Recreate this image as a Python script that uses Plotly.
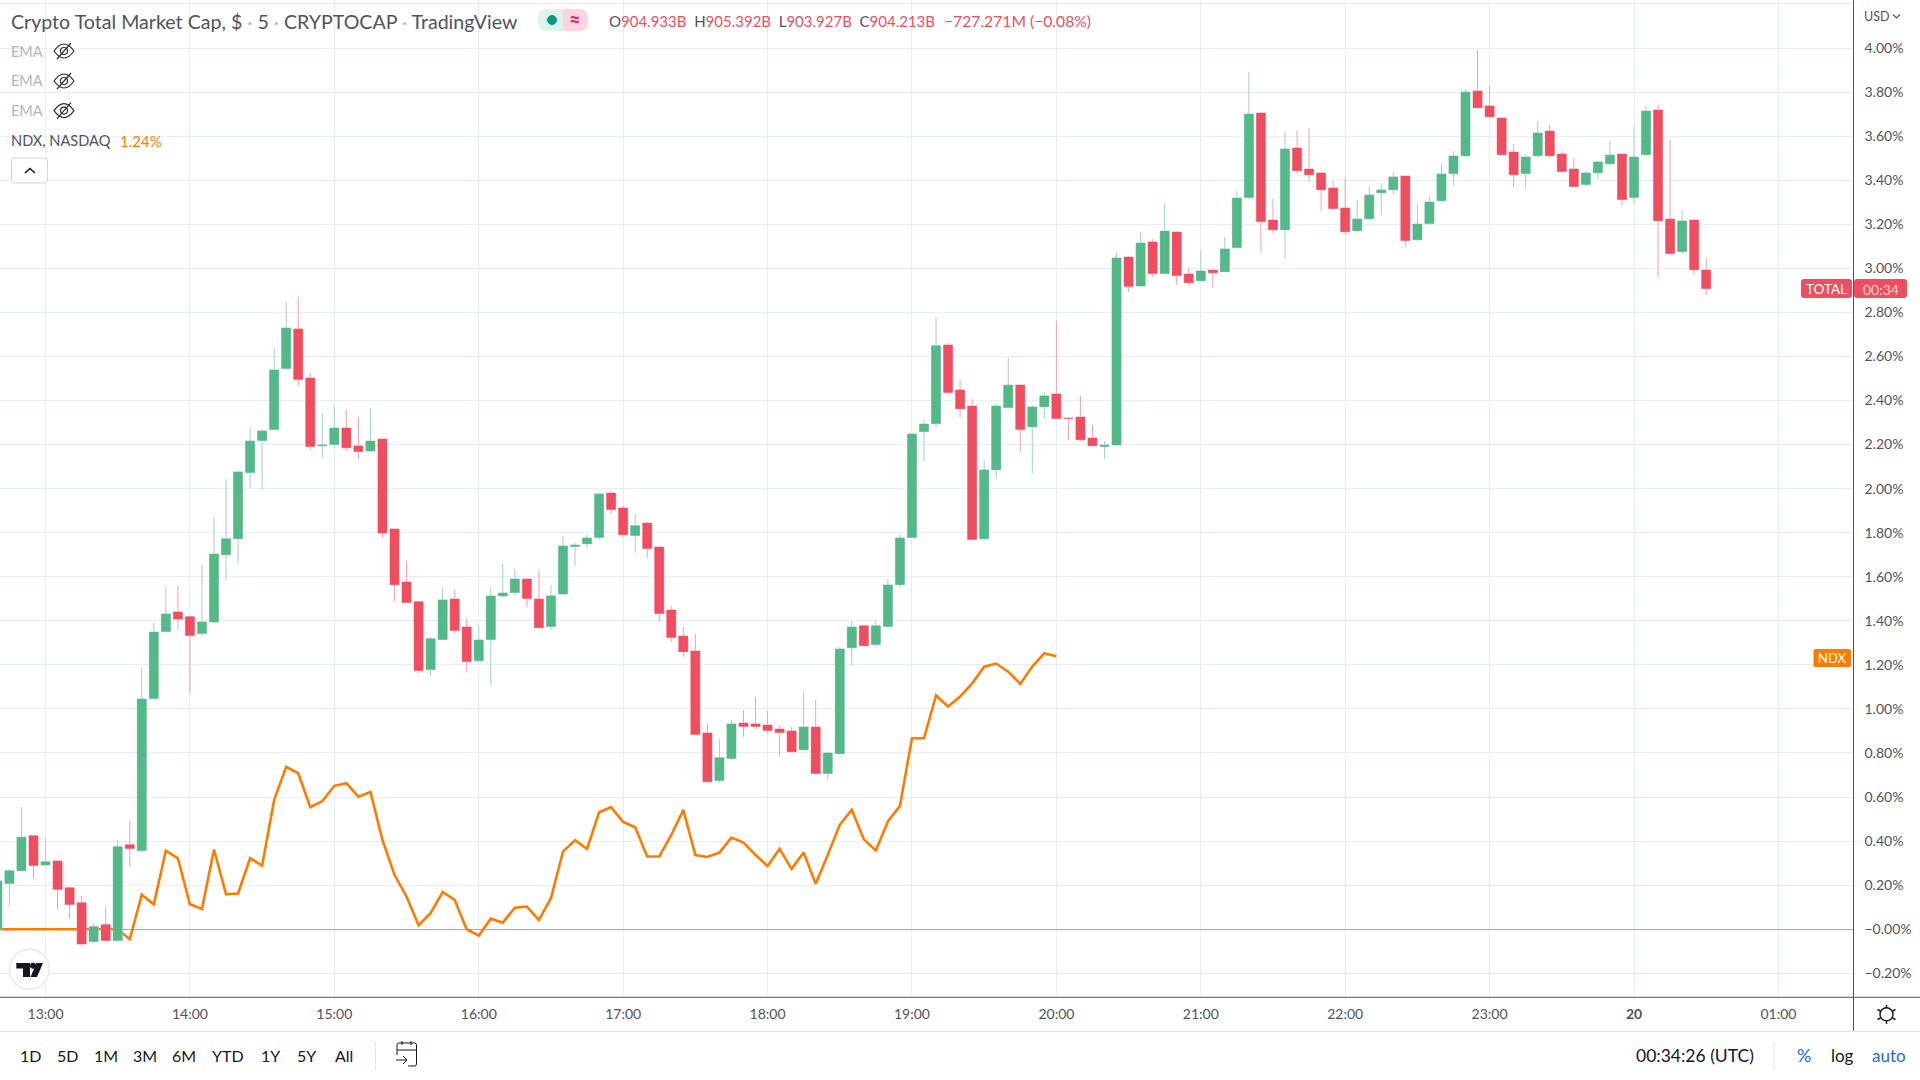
#!/usr/bin/env python
import pandas as pd
import plotly.graph_objects as go

# TOTAL candles, % change, one every 5 minutes starting 12:40
candle_open = [0.000, 0.207, 0.266, 0.424, 0.292, 0.310, 0.188, 0.120, -0.056, 0.020,
    -0.051, 0.383, 0.357, 1.047, 1.351, 1.440, 1.418, 1.342, 1.395, 1.700,
    1.773, 2.073, 2.218, 2.268, 2.545, 2.725, 2.502, 2.195, 2.200, 2.275,
    2.194, 2.171, 2.225, 1.817, 1.576, 1.486, 1.179, 1.315, 1.499, 1.372,
    1.219, 1.315, 1.513, 1.528, 1.590, 1.499, 1.374, 1.522, 1.737, 1.750,
    1.778, 1.980, 1.912, 1.787, 1.844, 1.735, 1.449, 1.331, 1.263, 0.891,
    0.675, 0.775, 0.936, 0.932, 0.927, 0.909, 0.900, 0.815, 0.918, 0.707,
    0.797, 1.278, 1.377, 1.292, 1.374, 1.564, 1.778, 2.259, 2.295, 2.652,
    2.448, 2.375, 1.772, 2.086, 2.368, 2.470, 2.281, 2.372, 2.430, 2.321,
    2.325, 2.230, 2.191, 2.198, 3.051, 2.920, 3.120, 2.976, 3.165, 2.974,
    2.944, 2.992, 2.985, 3.094, 3.321, 3.705, 3.219, 3.175, 3.546, 3.451,
    3.433, 3.365, 3.274, 3.171, 3.225, 3.343, 3.357, 3.419, 3.130, 3.203,
    3.307, 3.430, 3.511, 3.805, 3.737, 3.682, 3.528, 3.430, 3.511, 3.623,
    3.519, 3.451, 3.380, 3.434, 3.475, 3.519, 3.321, 3.516, 3.719, 3.224,
    3.076, 3.219, 2.992]
candle_high = [0.225, 0.272, 0.555, 0.427, 0.413, 0.310, 0.191, 0.151, 0.027, 0.101,
    0.405, 0.492, 1.186, 1.395, 1.554, 1.558, 1.422, 1.654, 1.871, 2.044,
    2.079, 2.280, 2.271, 2.638, 2.847, 2.870, 2.525, 2.343, 2.371, 2.357,
    2.325, 2.362, 2.225, 1.817, 1.672, 1.490, 1.327, 1.549, 1.540, 1.413,
    1.381, 1.554, 1.658, 1.635, 1.595, 1.631, 1.563, 1.785, 1.753, 1.794,
    1.980, 1.989, 1.921, 1.885, 1.849, 1.735, 1.467, 1.372, 1.340, 0.932,
    0.864, 0.950, 0.995, 1.054, 0.991, 0.923, 0.918, 1.077, 1.041, 0.805,
    1.281, 1.399, 1.377, 1.404, 1.590, 1.794, 2.253, 2.312, 2.779, 2.661,
    2.493, 2.407, 2.130, 2.384, 2.593, 2.475, 2.380, 2.439, 2.761, 2.325,
    2.421, 2.289, 2.216, 3.070, 3.056, 3.165, 3.133, 3.292, 3.169, 3.001,
    3.079, 2.997, 3.142, 3.351, 3.891, 3.710, 3.315, 3.619, 3.623, 3.637,
    3.437, 3.396, 3.410, 3.310, 3.374, 3.387, 3.437, 3.419, 3.292, 3.324,
    3.469, 3.533, 3.814, 3.991, 3.828, 3.687, 3.564, 3.519, 3.669, 3.651,
    3.533, 3.501, 3.446, 3.487, 3.578, 3.519, 3.646, 3.737, 3.741, 3.582,
    3.265, 3.224, 3.047]
candle_low = [0.000, 0.107, 0.266, 0.228, 0.287, 0.089, 0.048, -0.074, -0.065, -0.056,
    -0.057, 0.284, 0.348, 1.042, 1.349, 1.360, 1.070, 1.328, 1.390, 1.582,
    1.660, 2.005, 1.998, 2.266, 2.539, 2.466, 2.175, 2.141, 2.186, 2.172,
    2.135, 2.166, 1.776, 1.490, 1.481, 1.163, 1.150, 1.313, 1.342, 1.165,
    1.215, 1.109, 1.508, 1.513, 1.463, 1.368, 1.359, 1.517, 1.649, 1.731,
    1.767, 1.885, 1.781, 1.708, 1.685, 1.395, 1.304, 1.236, 0.882, 0.669,
    0.664, 0.769, 0.873, 0.909, 0.891, 0.787, 0.805, 0.809, 0.705, 0.678,
    0.796, 1.195, 1.286, 1.281, 1.368, 1.549, 1.778, 2.126, 2.275, 2.434,
    2.321, 1.767, 1.767, 2.044, 2.366, 2.166, 2.067, 2.316, 2.316, 2.221,
    2.216, 2.194, 2.135, 2.194, 2.893, 2.915, 2.961, 2.970, 2.924, 2.920,
    2.942, 2.911, 2.983, 3.088, 3.315, 3.074, 3.160, 3.042, 3.433, 3.392,
    3.260, 3.265, 3.151, 3.165, 3.219, 3.242, 3.333, 3.097, 3.124, 3.197,
    3.301, 3.378, 3.505, 3.728, 3.687, 3.514, 3.369, 3.360, 3.501, 3.501,
    3.437, 3.369, 3.374, 3.405, 3.469, 3.283, 3.292, 3.510, 2.961, 3.060,
    3.065, 2.974, 2.879]
candle_close = [0.219, 0.265, 0.418, 0.289, 0.306, 0.180, 0.112, -0.067, 0.011, -0.051,
    0.374, 0.366, 1.045, 1.349, 1.431, 1.408, 1.333, 1.395, 1.703, 1.772,
    2.076, 2.216, 2.262, 2.539, 2.729, 2.495, 2.191, 2.198, 2.275, 2.186,
    2.168, 2.216, 1.799, 1.564, 1.483, 1.174, 1.318, 1.495, 1.356, 1.215,
    1.313, 1.513, 1.526, 1.590, 1.501, 1.369, 1.513, 1.740, 1.744, 1.776,
    1.976, 1.905, 1.791, 1.831, 1.728, 1.433, 1.324, 1.260, 0.884, 0.670,
    0.778, 0.932, 0.920, 0.920, 0.902, 0.893, 0.806, 0.918, 0.707, 0.800,
    1.272, 1.372, 1.287, 1.377, 1.563, 1.776, 2.248, 2.293, 2.648, 2.436,
    2.363, 1.769, 2.085, 2.375, 2.470, 2.268, 2.371, 2.421, 2.318, 2.318,
    2.222, 2.195, 2.198, 3.047, 2.917, 3.115, 2.976, 3.169, 2.967, 2.935,
    2.988, 2.980, 3.088, 3.319, 3.700, 3.212, 3.175, 3.542, 3.443, 3.425,
    3.357, 3.271, 3.166, 3.224, 3.333, 3.356, 3.415, 3.126, 3.201, 3.301,
    3.428, 3.510, 3.800, 3.729, 3.688, 3.516, 3.425, 3.505, 3.614, 3.511,
    3.439, 3.371, 3.433, 3.483, 3.514, 3.312, 3.505, 3.714, 3.216, 3.067,
    3.215, 2.994, 2.908]

# NDX comparison line, same start, stops at 20:00
ndx_values = [0.000, 0.000, 0.000, 0.000, 0.000, 0.000, 0.000, 0.000, 0.000, 0.000,
    0.000, -0.045, 0.157, 0.113, 0.357, 0.322, 0.113, 0.092, 0.362, 0.159,
    0.162, 0.322, 0.289, 0.587, 0.737, 0.708, 0.554, 0.581, 0.651, 0.663,
    0.602, 0.623, 0.405, 0.247, 0.148, 0.018, 0.073, 0.169, 0.133, 0.000,
    -0.029, 0.048, 0.030, 0.098, 0.103, 0.042, 0.141, 0.352, 0.404, 0.365,
    0.531, 0.554, 0.487, 0.463, 0.330, 0.330, 0.428, 0.542, 0.337, 0.328,
    0.348, 0.416, 0.393, 0.337, 0.287, 0.365, 0.274, 0.348, 0.206, 0.337,
    0.474, 0.542, 0.408, 0.357, 0.489, 0.560, 0.867, 0.867, 1.061, 1.011,
    1.056, 1.116, 1.192, 1.206, 1.169, 1.113, 1.192, 1.253, 1.239]

y_ticks = [-0.2, 0.0, 0.2, 0.4, 0.6, 0.8, 1.0, 1.2, 1.4, 1.6, 1.8, 2.0, 2.2, 2.4, 2.6,
    2.8, 3.0, 3.2, 3.4, 3.6, 3.8, 4.0, 4.2]
y_labels = ['\u22120.20%', '\u22120.00%', '0.20%', '0.40%', '0.60%', '0.80%', '1.00%', '1.20%',
    '1.40%', '1.60%', '1.80%', '2.00%', '2.20%', '2.40%', '2.60%', '2.80%', '3.00%',
    '3.20%', '3.40%', '3.60%', '3.80%', '4.00%', '']
x_ticks = ['2022-10-19 13:00', '2022-10-19 14:00', '2022-10-19 15:00', '2022-10-19 16:00',
    '2022-10-19 17:00', '2022-10-19 18:00', '2022-10-19 19:00', '2022-10-19 20:00',
    '2022-10-19 21:00', '2022-10-19 22:00', '2022-10-19 23:00', '2022-10-20 00:00',
    '2022-10-20 01:00']
x_labels = ['13:00', '14:00', '15:00', '16:00', '17:00', '18:00', '19:00', '20:00',
    '21:00', '22:00', '23:00', '<b>20</b>', '01:00']
range_buttons = ['1D', '5D', '1M', '3M', '6M', 'YTD', '1Y', '5Y', 'All']
range_button_x = [30, 67, 106, 145, 184, 228, 270, 306, 344]

FONT = 'Lato'
TEXT = '#50535e'
GRID = '#e6eef4'
RED = '#ee4e5f'
GREEN = '#53b987'
ORANGE = '#ff7b00'
W, H = 1920, 1080
AXIS_X, AXIS_Y = 1853.5, 997.3

times = pd.date_range('2022-10-19 12:40', periods=len(candle_open), freq='5min')
ndx_times = times[:len(ndx_values)]
body_high = [max(o, c) for o, c in zip(candle_open, candle_close)]
body_low = [min(o, c) for o, c in zip(candle_open, candle_close)]

fig = go.Figure()

fig.add_trace(go.Scatter(x=ndx_times, y=ndx_values, mode='lines', name='NDX',
                         line=dict(color=ORANGE, width=2.6), yaxis='y'))

# wicks are paler than the bodies so they get their own trace underneath
fig.add_trace(go.Candlestick(x=times, open=candle_open, high=candle_high, low=candle_low,
                             close=candle_close, yaxis='y2', whiskerwidth=0,
                             increasing=dict(line=dict(color='#a3cfcf', width=1), fillcolor=GREEN),
                             decreasing=dict(line=dict(color='#fb9dab', width=1), fillcolor=RED)))
fig.add_trace(go.Candlestick(x=times, open=candle_open, high=body_high, low=body_low,
                             close=candle_close, yaxis='y2', whiskerwidth=0,
                             increasing=dict(line=dict(color=GREEN, width=0), fillcolor=GREEN),
                             decreasing=dict(line=dict(color=RED, width=0), fillcolor=RED)))


def px(x, y):
    return '%.5f %.5f' % (x / W, 1 - y / H)


def line(x0, y0, x1, y1, color, width=1):
    return dict(type='line', xref='paper', yref='paper', x0=x0 / W, y0=1 - y0 / H, x1=x1 / W,
                y1=1 - y1 / H, line=dict(color=color, width=width), layer='above')


def path(p, fill=None, border=None, width=1):
    d = dict(type='path', xref='paper', yref='paper', path=p, layer='above', line=dict(width=0))
    if fill:
        d['fillcolor'] = fill
    if border:
        d['line'] = dict(color=border, width=width)
    return d


def rect(x0, y0, x1, y1, fill, border=None, r=3):
    p = ('M ' + px(x0 + r, y0) + ' L ' + px(x1 - r, y0) + ' Q ' + px(x1, y0) + ' ' + px(x1, y0 + r)
         + ' L ' + px(x1, y1 - r) + ' Q ' + px(x1, y1) + ' ' + px(x1 - r, y1)
         + ' L ' + px(x0 + r, y1) + ' Q ' + px(x0, y1) + ' ' + px(x0, y1 - r)
         + ' L ' + px(x0, y0 + r) + ' Q ' + px(x0, y0) + ' ' + px(x0 + r, y0) + ' Z')
    return path(p, fill, border)


def circle(cx, cy, r, fill, border=None, width=1):
    return dict(type='circle', xref='paper', yref='paper', x0=(cx - r) / W, x1=(cx + r) / W,
                y0=1 - (cy + r) / H, y1=1 - (cy - r) / H, fillcolor=fill, layer='above',
                line=dict(color=border or fill, width=width))


def text(s, x, y, size=14, color=TEXT, anchor='left'):
    return dict(text=s, xref='paper', yref='paper', x=x / W, y=1 - y / H, xanchor=anchor,
                yanchor='middle', showarrow=False, align=anchor,
                font=dict(family=FONT, size=size, color=color))


shapes = [
    line(AXIS_X, 0, AXIS_X, 1031, TEXT),
    line(0, AXIS_Y, W, AXIS_Y, TEXT),
    line(0, 1031.5, W, 1031.5, '#e0e3eb', 1.5),
    line(375.5, 1042, 375.5, 1070, '#e0e3eb'),
    line(1774, 1042, 1774, 1070, '#e0e3eb'),
    # status pill next to the title
    rect(538, 9, 570, 31, '#def2ee', r=9),
    rect(556, 9, 588, 31, '#fcd3e0', r=9),
    rect(556, 9, 563, 31, '#def2ee', r=0),
    circle(552, 20, 4.5, '#089981'),
    # collapse button
    rect(11.5, 158, 47.5, 183, '#ffffff', '#d1d4dc'),
    path('M ' + px(25, 173) + ' L ' + px(30, 168.5) + ' L ' + px(35, 173), border='#131722', width=1.6),
    # price tags
    rect(1801, 279, 1852, 298, RED, r=3),
    rect(1854, 279, 1907, 298, RED, r=3),
    rect(1813.5, 649, 1851, 667, ORANGE, r=2),
    # USD chevron
    path('M ' + px(1893, 14.5) + ' L ' + px(1896.5, 18) + ' L ' + px(1900, 14.5), border=TEXT, width=1.2),
    # logo badge
    circle(29.4, 969.3, 20, '#ffffff', '#ececec', 2),
    path('M ' + px(16.3, 963) + ' L ' + px(30, 963) + ' L ' + px(30, 977) + ' L ' + px(23, 977)
         + ' L ' + px(23, 968.5) + ' L ' + px(16.3, 968.5) + ' Z', fill='#131722'),
    circle(33, 965.7, 2.6, '#131722'),
    path('M ' + px(36.5, 963) + ' L ' + px(43, 963) + ' L ' + px(37, 977) + ' L ' + px(30.5, 977) + ' Z',
         fill='#131722'),
    # settings gear
    circle(1886.5, 1014.3, 6.5, '#ffffff', '#131722', 1.4),
    line(1886.5, 1005, 1886.5, 1008, '#131722', 1.4),
    line(1886.5, 1021, 1886.5, 1024, '#131722', 1.4),
    line(1877.5, 1009.5, 1880.5, 1011, '#131722', 1.4),
    line(1892.5, 1018, 1895.5, 1019.5, '#131722', 1.4),
    line(1877.5, 1019.5, 1880.5, 1018, '#131722', 1.4),
    line(1892.5, 1011, 1895.5, 1009.5, '#131722', 1.4),
    # go to date icon
    rect(397, 1043, 416.5, 1066, None, '#131722', r=2),
    line(397, 1050, 416.5, 1050, '#131722'),
    line(402, 1041, 402, 1045, '#131722'),
    line(411, 1041, 411, 1045, '#131722'),
    # white patch hides the corner of the calendar behind the arrow
    rect(392, 1055, 408, 1067, '#ffffff', r=0),
    line(396, 1060, 407, 1060, '#131722'),
    path('M ' + px(403, 1056) + ' L ' + px(407, 1060) + ' L ' + px(403, 1064), border='#131722'),
]

# crossed out eye icons for the hidden EMAs
for eye_y in [51, 81, 110.6]:
    shapes.append(path('M ' + px(54, eye_y) + ' Q ' + px(64, eye_y - 14) + ' ' + px(74, eye_y)
                       + ' Q ' + px(64, eye_y + 14) + ' ' + px(54, eye_y) + ' Z', border='#2a2e39', width=1.2))
    shapes.append(circle(64, eye_y, 3.5, '#ffffff', '#2a2e39', 1.2))
    shapes.append(line(57, eye_y + 8, 71, eye_y - 8, '#2a2e39', 1.2))

grey_dot = '<span style="color:#b2b5be"> \u00b7 </span>'
ohlc = ('O<span style="color:%(r)s">904.933B</span>  H<span style="color:%(r)s">905.392B</span>  '
        'L<span style="color:%(r)s">903.927B</span>  C<span style="color:%(r)s">904.213B</span>') % dict(r=RED)

annotations = [
    text('Crypto Total Market Cap, $' + grey_dot + '5' + grey_dot + 'CRYPTOCAP' + grey_dot + 'TradingView',
         8.5, 21, 19.6),
    text('<b>\u2248</b>', 574.5, 19, 20, '#e91e63', 'center'),
    text(ohlc, 607, 21, 15),
    text('\u2212727.271M (\u22120.08%)', 941.5, 21, 15.7, RED),
    text('EMA', 8.5, 51, 14.5, '#b2b5be'),
    text('EMA', 8.5, 81, 14.5, '#b2b5be'),
    text('EMA', 8.5, 110.6, 14.5, '#b2b5be'),
    text('NDX, NASDAQ', 8.5, 141, 14.6),
    text('1.24%', 117.5, 141, 15, ORANGE),
    text('USD', 1862, 16, 12.5),
    text('TOTAL', 1826.5, 289, 13.5, '#ffffff', 'center'),
    text('00:34', 1880.5, 289, 14, '#ffd0d6', 'center'),
    text('NDX', 1832, 658, 13, '#ffffff', 'center'),
    text('00:34:26 (UTC)', 1695, 1055, 17.5, '#131722', 'center'),
    text('%', 1804, 1055, 18, '#2962ff', 'center'),
    text('log', 1842, 1055, 17, '#131722', 'center'),
    text('auto', 1888.5, 1055, 17, '#2962ff', 'center'),
]
for label, x in zip(range_buttons, range_button_x):
    annotations.append(text(label, x, 1055.5, 16, '#131722', 'center'))

y_range = [-0.309, 4.218]

fig.update_layout(autosize=False, width=W, height=H, showlegend=False,
                  margin=dict(l=0, r=0, t=0, b=0),
                  paper_bgcolor='#ffffff', plot_bgcolor='#ffffff',
                  boxmode='overlay', boxgap=0.25, boxgroupgap=0,
                  shapes=shapes, annotations=annotations,
                  font=dict(family=FONT, color=TEXT))
fig.update_xaxes(domain=[0, AXIS_X / W], type='date', anchor='y',
                 range=['2022-10-19 12:41:05', '2022-10-20 01:31:12'],
                 rangeslider_visible=False,
                 tickmode='array', tickvals=x_ticks, ticktext=x_labels,
                 showgrid=True, gridcolor=GRID, gridwidth=1, ticks='', ticklabelstandoff=7,
                 tickfont=dict(family=FONT, size=14, color=TEXT), showline=False, zeroline=False)
fig.update_layout(
    yaxis=dict(domain=[1 - AXIS_Y / H, 1], range=y_range, side='right', anchor='x',
               tickmode='array', tickvals=y_ticks, ticktext=y_labels,
               showgrid=True, gridcolor=GRID, gridwidth=1, ticks='', ticklabelstandoff=10,
               tickfont=dict(family=FONT, size=14, color=TEXT), showline=False,
               zeroline=True, zerolinecolor='#a8a8a8', zerolinewidth=1),
    yaxis2=dict(overlaying='y', range=y_range, side='right', visible=False, anchor='x'),
)

fig.write_html("out.html", post_script="document.body.style.margin='0'", config=dict(displayModeBar=False))
